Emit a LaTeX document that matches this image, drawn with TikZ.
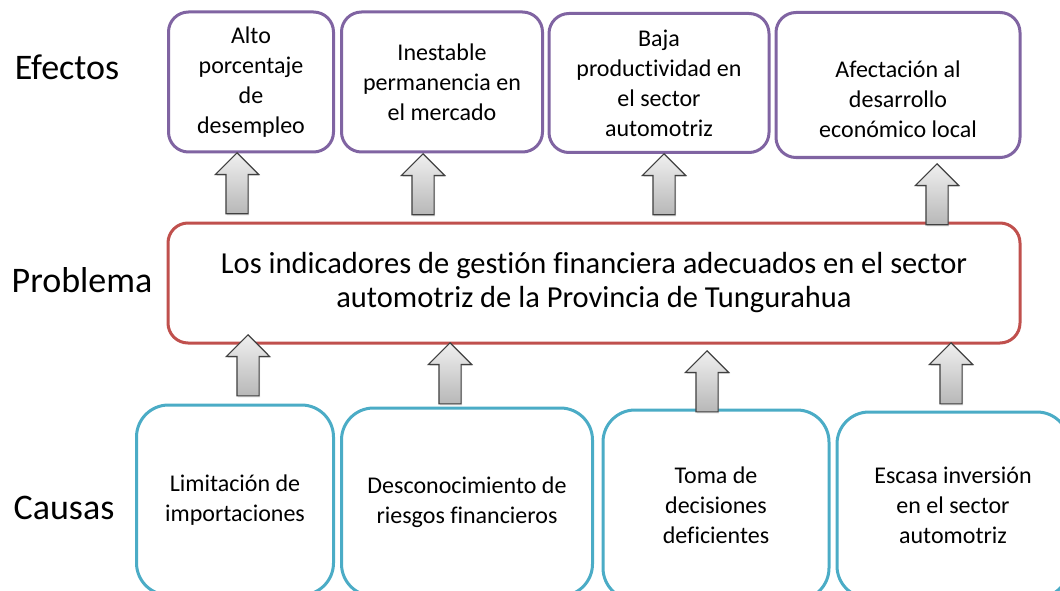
\documentclass[tikz,border=0pt]{standalone}
\usepackage{fontspec}
\setmainfont{Carlito}[Ligatures=NoCommon]
\usetikzlibrary{positioning,shapes.arrows,shadows}
\definecolor{efecto}{HTML}{8064A2}
\definecolor{problema}{HTML}{C0504D}
\definecolor{causa}{HTML}{4BACC6}

\begin{document}
\begin{tikzpicture}[x=1pt, y=-1pt,
    box/.style={rectangle, rounded corners=20pt, draw, line width=3pt, fill=white, align=center, font=\fontsize{24}{30}\selectfont},
    efectobox/.style={box, draw=efecto},
    causabox/.style={box, draw=causa, rounded corners=32pt},
    problemabox/.style={box, draw=problema, font=\fontsize{30.5}{34}\selectfont},
    rowlabel/.style={anchor=base, font=\fontsize{36}{40}\selectfont},
    uparrow/.style={single arrow, shape border rotate=90, anchor=tip, draw=black!75, line width=1.2pt,
        top color=black!6, bottom color=black!28, minimum height=61pt, minimum width=43pt,
        single arrow head extend=10.5pt, inner sep=10.5pt,
        drop shadow={shadow xshift=1pt, shadow yshift=-1.5pt, opacity=.25}}
]
    \useasboundingbox (0,0) rectangle (1060,591);
    \clip (0,0) rectangle (1060,591);

    % row labels
    \node[rowlabel] (efectos) at (67,80) {Efectos};
    \node[rowlabel] (problema) at (82,292) {Problema};
    \node[rowlabel] (causas) at (64,519) {Causas};

    % effects
    \node[efectobox, minimum width=165, minimum height=140] (efecto1) at (251,82) {Alto\\porcentaje\\de\\desempleo};
    \node[efectobox, minimum width=201, minimum height=140] (efecto2) at (442,82) {Inestable\\permanencia en\\el mercado};
    \node[efectobox, minimum width=220, minimum height=139] (efecto3) at (659,83) {Baja\\productividad en\\el sector\\automotriz};
    \node[efectobox, minimum width=244, minimum height=145] (efecto4) at (898,85) {};
    \node[align=center, font=\fontsize{24}{30}\selectfont] (efecto4txt) at (898,99) {Afectación al\\desarrollo\\económico local};

    % problem
    \node[problemabox, minimum width=852, minimum height=120] (central) at (594,283)
        {Los indicadores de gestión financiera adecuados en el sector\\automotriz de la Provincia de Tungurahua};

    % causes
    \node[causabox, minimum width=197, minimum height=190] (causa1) at (235,500) {Limitación de\\importaciones};
    \node[causabox, minimum width=251, minimum height=188] (causa2) at (467,502) {Desconocimiento de\\riesgos financieros};
    \node[causabox, minimum width=226, minimum height=190] (causa3) at (716,505) {Toma de\\decisiones\\deficientes};
    \node[causabox, minimum width=232, minimum height=186] (causa4) at (953,505) {Escasa inversión\\en el sector\\automotriz};

    % arrows (placed by their tips)
    \node[uparrow] (flecha1) at (237,152) {};
    \node[uparrow] (flecha2) at (423,153) {};
    \node[uparrow] (flecha3) at (664,153) {};
    \node[uparrow] (flecha4) at (937,163) {};
    \node[uparrow] (flecha5) at (248,334) {};
    \node[uparrow] (flecha6) at (450,342) {};
    \node[uparrow] (flecha7) at (707,350) {};
    \node[uparrow] (flecha8) at (951,342) {};
\end{tikzpicture}
\end{document}
